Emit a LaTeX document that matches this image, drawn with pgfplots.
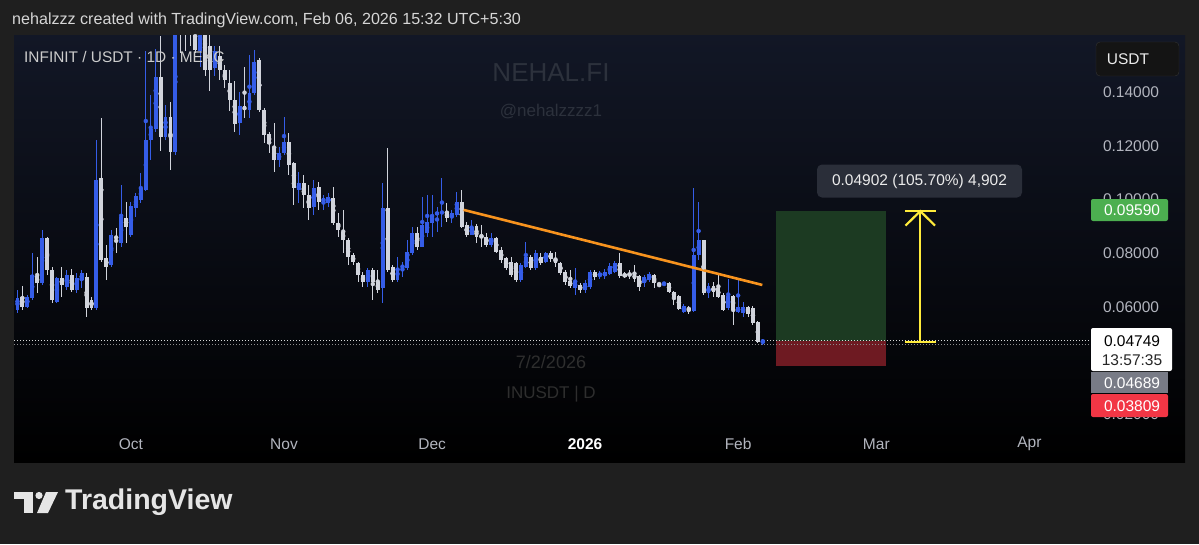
\documentclass[border=0pt]{standalone}
\usepackage{fontspec}
\setmainfont{Liberation Sans}
\usepackage{pgfplots}
\usepackage{pgfplotstable}
\pgfplotsset{compat=1.18}

\definecolor{bgouter}{HTML}{1F1F1F}
\definecolor{paneltop}{HTML}{121726}
\definecolor{upblue}{HTML}{355DE8}
\definecolor{downwhite}{HTML}{D1D4DC}
\definecolor{ticktext}{HTML}{B2B5BE}
\definecolor{headertext}{HTML}{D6D6D6}
\definecolor{trendorange}{HTML}{F7931E}
\definecolor{arrowyellow}{HTML}{FFEB3B}
\definecolor{posgreen}{HTML}{1C3A22}
\definecolor{posred}{HTML}{6E1A22}
\definecolor{lblgreen}{HTML}{4CAF50}
\definecolor{lblgray}{HTML}{787B86}
\definecolor{lblred}{HTML}{F23645}
\definecolor{boxgray}{HTML}{2A2E39}
\definecolor{wmark}{HTML}{2C313C}
\definecolor{wmarkdark}{HTML}{2E2E2E}

% daily candles, d = days since 1 Oct 2025
\pgfplotstableread{
d o h l c
-23 0.0589 0.0663 0.0578 0.0634
-22 0.0638 0.0678 0.0589 0.0601
-21 0.0601 0.0645 0.0597 0.0638
-20 0.0632 0.0801 0.0626 0.0719
-19 0.0715 0.0787 0.0651 0.0688
-18 0.0688 0.0887 0.0682 0.0856
-17 0.0856 0.0862 0.0719 0.0738
-16 0.0738 0.0750 0.0614 0.0626
-15 0.0620 0.0712 0.0615 0.0707
-14 0.0707 0.0748 0.0638 0.0682
-13 0.0676 0.0738 0.0663 0.0719
-12 0.0719 0.0740 0.0657 0.0663
-11 0.0663 0.0725 0.0651 0.0707
-10 0.0701 0.0738 0.0670 0.0725
-9 0.0711 0.0725 0.0564 0.0595
-8 0.0626 0.0638 0.0589 0.0595
-7 0.0595 0.1222 0.0589 0.1073
-6 0.1079 0.1303 0.0769 0.0775
-5 0.0781 0.0831 0.0701 0.0750
-4 0.0756 0.0887 0.0750 0.0868
-3 0.0862 0.0893 0.0800 0.0856
-2 0.0837 0.1054 0.0825 0.0936
-1 0.0930 0.0992 0.0837 0.0899
0 0.0868 0.0990 0.0860 0.0976
1 0.0969 0.1026 0.0936 0.1013
2 0.0999 0.1099 0.0987 0.1043
3 0.1036 0.1553 0.1032 0.1222
4 0.1222 0.1389 0.1147 0.1262
5 0.1262 0.1560 0.1251 0.1456
6 0.1456 0.1608 0.1181 0.1233
7 0.1233 0.1352 0.1222 0.1307
8 0.1307 0.1363 0.1110 0.1177
9 0.1177 0.1750 0.1166 0.1700
10 0.1750 0.1800 0.1546 0.1680
11 0.1720 0.1780 0.1553 0.1650
12 0.1680 0.1760 0.1572 0.1640
13 0.1660 0.1700 0.1546 0.1557
14 0.1553 0.1700 0.1494 0.1650
15 0.1650 0.1700 0.1460 0.1482
16 0.1571 0.1630 0.1404 0.1482
17 0.1489 0.1571 0.1460 0.1553
18 0.1535 0.1571 0.1445 0.1482
19 0.1482 0.1501 0.1415 0.1445
20 0.1434 0.1482 0.1330 0.1371
21 0.1371 0.1441 0.1251 0.1280
22 0.1285 0.1401 0.1240 0.1348
23 0.1348 0.1494 0.1303 0.1333
24 0.1333 0.1538 0.1303 0.1396
25 0.1396 0.1557 0.1389 0.1512
26 0.1519 0.1527 0.1326 0.1333
27 0.1333 0.1340 0.1211 0.1240
28 0.1244 0.1251 0.1174 0.1207
29 0.1196 0.1285 0.1103 0.1147
30 0.1147 0.1196 0.1121 0.1173
31 0.1173 0.1307 0.1166 0.1214
32 0.1214 0.1248 0.1091 0.1129
33 0.1136 0.1140 0.0980 0.1043
34 0.1036 0.1103 0.0987 0.1062
35 0.1062 0.1091 0.0969 0.1017
36 0.1017 0.1054 0.0924 0.0969
37 0.0973 0.1073 0.0943 0.1043
38 0.1047 0.1066 0.0961 0.0991
39 0.0991 0.1017 0.0961 0.1006
40 0.0987 0.1024 0.0973 0.1010
41 0.1006 0.1047 0.0905 0.0913
42 0.0913 0.0950 0.0861 0.0887
43 0.0879 0.0961 0.0801 0.0850
44 0.0850 0.0857 0.0756 0.0786
45 0.0794 0.0801 0.0756 0.0768
46 0.0764 0.0768 0.0693 0.0719
47 0.0719 0.0730 0.0674 0.0693
48 0.0693 0.0745 0.0674 0.0738
49 0.0738 0.0745 0.0626 0.0693
50 0.0693 0.0738 0.0652 0.0663
51 0.0671 0.1062 0.0615 0.0969
52 0.0969 0.1192 0.0730 0.0738
53 0.0749 0.0756 0.0693 0.0701
54 0.0701 0.0786 0.0693 0.0745
55 0.0745 0.0768 0.0712 0.0756
56 0.0745 0.0850 0.0738 0.0805
57 0.0801 0.0898 0.0794 0.0875
58 0.0875 0.0898 0.0812 0.0823
59 0.0823 0.1010 0.0823 0.0905
60 0.0875 0.1017 0.0861 0.0916
61 0.0913 0.1017 0.0861 0.0943
62 0.0943 0.0973 0.0879 0.0954
63 0.0950 0.1080 0.0898 0.0954
64 0.0954 0.0987 0.0916 0.0931
65 0.0935 0.0961 0.0913 0.0950
66 0.0943 0.1028 0.0935 0.0991
67 0.0991 0.1036 0.0894 0.0898
68 0.0905 0.0916 0.0861 0.0868
69 0.0868 0.0924 0.0868 0.0898
70 0.0901 0.0909 0.0838 0.0861
71 0.0864 0.0905 0.0823 0.0861
72 0.0861 0.0875 0.0823 0.0831
73 0.0831 0.0875 0.0823 0.0857
74 0.0857 0.0861 0.0801 0.0805
75 0.0812 0.0823 0.0764 0.0775
76 0.0782 0.0786 0.0738 0.0745
77 0.0768 0.0786 0.0712 0.0719
78 0.0764 0.0768 0.0693 0.0701
79 0.0701 0.0764 0.0693 0.0756
80 0.0749 0.0842 0.0745 0.0786
81 0.0786 0.0794 0.0738 0.0745
82 0.0745 0.0812 0.0738 0.0801
83 0.0786 0.0801 0.0756 0.0764
84 0.0768 0.0805 0.0764 0.0801
85 0.0801 0.0808 0.0768 0.0779
86 0.0782 0.0805 0.0749 0.0764
87 0.0764 0.0768 0.0719 0.0727
88 0.0730 0.0738 0.0682 0.0693
89 0.0697 0.0738 0.0671 0.0678
90 0.0671 0.0745 0.0645 0.0693
91 0.0682 0.0689 0.0652 0.0663
92 0.0663 0.0701 0.0652 0.0689
93 0.0674 0.0738 0.0667 0.0730
94 0.0730 0.0738 0.0701 0.0712
95 0.0715 0.0734 0.0704 0.0727
96 0.0715 0.0740 0.0704 0.0730
97 0.0723 0.0764 0.0719 0.0753
98 0.0730 0.0771 0.0727 0.0764
99 0.0764 0.0801 0.0708 0.0715
100 0.0723 0.0730 0.0708 0.0712
101 0.0727 0.0738 0.0704 0.0715
102 0.0723 0.0756 0.0693 0.0704
103 0.0715 0.0719 0.0660 0.0675
104 0.0689 0.0719 0.0674 0.0712
105 0.0701 0.0730 0.0693 0.0723
106 0.0719 0.0723 0.0671 0.0689
107 0.0689 0.0689 0.0674 0.0682
108 0.0686 0.0693 0.0678 0.0689
109 0.0689 0.0693 0.0652 0.0656
110 0.0656 0.0660 0.0607 0.0637
111 0.0641 0.0645 0.0589 0.0593
112 0.0582 0.0611 0.0578 0.0604
113 0.0597 0.0604 0.0574 0.0589
114 0.0585 0.1043 0.0582 0.0794
115 0.0794 0.0991 0.0775 0.0850
116 0.0850 0.0850 0.0645 0.0652
117 0.0652 0.0689 0.0634 0.0678
118 0.0678 0.0693 0.0637 0.0656
119 0.0671 0.0719 0.0634 0.0637
120 0.0645 0.0652 0.0585 0.0589
121 0.0597 0.0704 0.0589 0.0641
122 0.0641 0.0645 0.0533 0.0589
123 0.0582 0.0708 0.0578 0.0600
124 0.0578 0.0619 0.0563 0.0600
125 0.0600 0.0604 0.0563 0.0574
126 0.0597 0.0604 0.0533 0.0541
127 0.0544 0.0548 0.0466 0.0470
128 0.0470 0.0481 0.0459 0.0475
}\candles

\begin{document}
\begin{tikzpicture}[x=1pt,y=-1pt]
\useasboundingbox (0,0) rectangle (1199,544);
\fill[bgouter] (0,0) rectangle (1199,544);
\shade[top color=paneltop, bottom color=black] (14,35) rectangle (1185,462);

\node[anchor=west, inner sep=0, text=headertext, font=\fontsize{16.1}{19}\selectfont] at (12,20)
  {nehalzzz created with TradingView.com, Feb 06, 2026 15:32 UTC+5:30};

% watermarks
\node[text=wmark, font=\fontsize{26}{30}\selectfont] at (551,73) {NEHAL.FI};
\node[text=wmark, font=\fontsize{17}{20}\selectfont] at (551,112) {@nehalzzzz1};
\node[text=wmarkdark, font=\fontsize{18}{21}\selectfont] at (551,362) {7/2/2026};
\node[text=wmarkdark, font=\fontsize{17}{20}\selectfont] at (551,394) {INUSDT | D};

\begin{axis}[
  at={(14pt,-35pt)}, anchor=north west,
  scale only axis, width=1081pt, height=390pt,
  xmin=-23.7, xmax=195.3, ymin=0.016052, ymax=0.1613,
  axis line style={draw=none}, major tick length=0pt,
  xtick={0,31,61,92,123,151,182},
  xticklabels={Oct,Nov,Dec,\textcolor{white}{\textbf{2026}},Feb,Mar,Apr},
  ytick={0.02,0.06,0.08,0.10,0.12,0.14},
  yticklabels={0.02000,0.06000,0.08000,0.10000,0.12000,0.14000},
  scaled y ticks=false,
  yticklabel pos=right,
  tick label style={font=\fontsize{15.5}{18}\selectfont, text=ticktext},
  yticklabel style={anchor=west, xshift=4.5pt},
  xticklabel style={anchor=center, yshift=-19pt},
]
% position tool (long)
\fill[posgreen] (130.7,0.04749) rectangle (153,0.0959);
\fill[posred] (130.7,0.03809) rectangle (153,0.04749);

% price lines
\draw[white!85!black, line width=1pt, dash pattern=on 1pt off 2pt] (-23.7,0.04749) -- (195.3,0.04749);
\draw[white!55!black, line width=1pt, dash pattern=on 1pt off 2pt] (-23.7,0.0459) -- (195.3,0.0459);

% wicks
\addplot[upblue, only marks, mark=none,
  error bars/.cd, y dir=both, y explicit, error mark=none, error bar style={line width=1pt}]
  table[x=d, y expr={\thisrow{c}>=\thisrow{o} ? (\thisrow{h}+\thisrow{l})/2 : nan},
        y error expr={(\thisrow{h}-\thisrow{l})/2}] {\candles};
\addplot[downwhite, only marks, mark=none,
  error bars/.cd, y dir=both, y explicit, error mark=none, error bar style={line width=1pt}]
  table[x=d, y expr={\thisrow{c}<\thisrow{o} ? (\thisrow{h}+\thisrow{l})/2 : nan},
        y error expr={(\thisrow{h}-\thisrow{l})/2}] {\candles};
% bodies
\addplot[upblue, only marks, mark=none,
  error bars/.cd, y dir=both, y explicit, error mark=none, error bar style={line width=3.9pt}]
  table[x=d, y expr={\thisrow{c}>=\thisrow{o} ? (\thisrow{o}+\thisrow{c})/2 : nan},
        y error expr={max(abs(\thisrow{c}-\thisrow{o})/2,0.0002)}] {\candles};
\addplot[downwhite, only marks, mark=none,
  error bars/.cd, y dir=both, y explicit, error mark=none, error bar style={line width=3.9pt}]
  table[x=d, y expr={\thisrow{c}<\thisrow{o} ? (\thisrow{o}+\thisrow{c})/2 : nan},
        y error expr={max(abs(\thisrow{c}-\thisrow{o})/2,0.0002)}] {\candles};

% trend line
\draw[trendorange, line width=2.6pt] (66.9,0.0964) -- (127.9,0.0682);

% measure arrow
\draw[arrowyellow, line width=2.2pt] (159.9,0.04689) -- (159.9,0.0959);
\draw[arrowyellow, line width=2.2pt] (156.8,0.0959) -- (163.1,0.0959);
\draw[arrowyellow, line width=2.2pt] (156.8,0.04689) -- (163.1,0.04689);
\draw[arrowyellow, line width=2.2pt] (156.9,0.0903) -- (159.9,0.0957) -- (162.9,0.0903);
\end{axis}

\node[anchor=west, inner sep=0, text=white!80!black, font=\fontsize{15.4}{18}\selectfont] at (24,57)
  {INFINIT / USDT · 1D · MEXC};

\node[fill=boxgray, rounded corners=5pt, text=white!92!black, minimum width=205pt, minimum height=33pt,
  inner sep=0, font=\fontsize{15.5}{18}\selectfont] at (919.5,181) {0.04902 (105.70\%) 4,902};

% price scale boxes
\draw[fill=black!92, draw=white!20!black, rounded corners=4pt] (1096,42) rectangle (1179,76);
\node[text=white!92!black, font=\fontsize{15.5}{18}\selectfont] at (1128,59) {USDT};

\fill[lblgreen, rounded corners=2pt] (1091,199) rectangle (1168,221);
\node[text=white, font=\fontsize{15.5}{18}\selectfont] at (1132,210) {0.09590};
\fill[white, rounded corners=2pt] (1091,328) rectangle (1172,371);
\node[text=black, font=\fontsize{15.5}{18}\selectfont] at (1132,341) {0.04749};
\node[text=black!85, font=\fontsize{15.5}{18}\selectfont] at (1132,360) {13:57:35};
\fill[lblgray] (1091,372) rectangle (1168,393);
\node[text=white, font=\fontsize{15.5}{18}\selectfont] at (1132,383) {0.04689};
\fill[lblred, rounded corners=2pt] (1091,394) rectangle (1168,417);
\node[text=white, font=\fontsize{15.5}{18}\selectfont] at (1132,406) {0.03809};

% TradingView logo
\fill[white!90!black] (14,492) rectangle (33,499);
\fill[white!90!black] (24,492) rectangle (33,513);
\fill[white!90!black] (39,495.5) circle (3.6);
\fill[white!90!black] (46,492) -- (58,492) -- (48,513) -- (37,513) -- cycle;
\node[anchor=west, inner sep=0, text=white!90!black, font=\fontsize{28.5}{32}\selectfont\bfseries] at (65,502) {TradingView};
\end{tikzpicture}
\end{document}
